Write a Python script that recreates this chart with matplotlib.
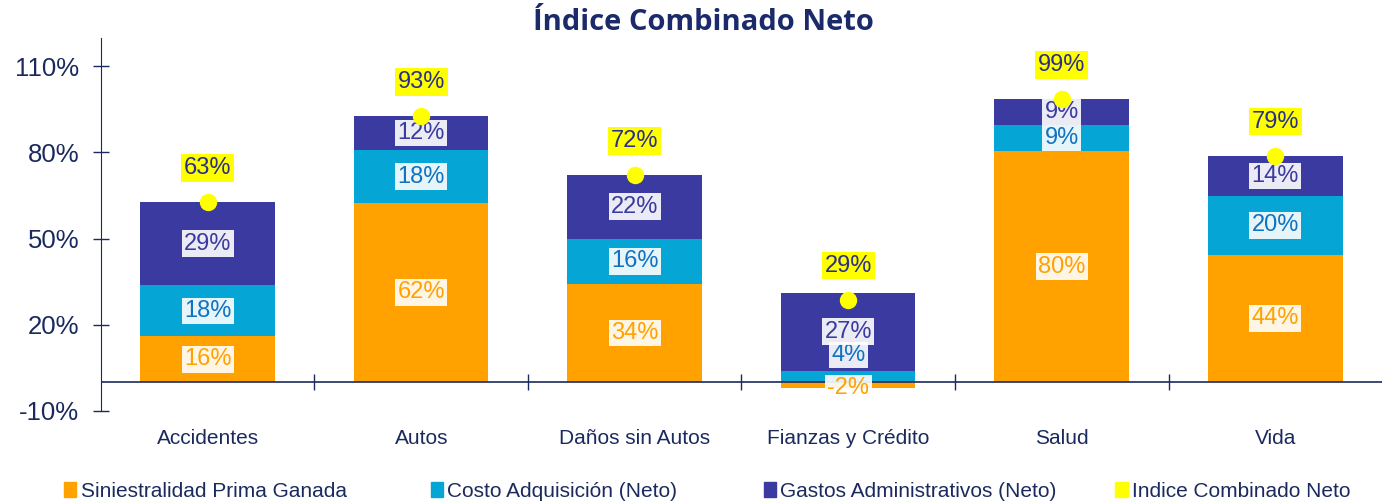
import matplotlib
matplotlib.use("Agg")
import matplotlib.pyplot as plt
from matplotlib.patches import Patch
import numpy as np

categories = ["Accidentes", "Autos", "Daños sin Autos", "Fianzas y Crédito", "Salud", "Vida"]
siniestralidad = [15.9, 62.4, 34.2, -2.2, 80.4, 44.4]
costo_adq = [17.8, 18.4, 15.8, 4.0, 9.2, 20.3]
gastos_adm = [29.1, 11.9, 22.1, 26.9, 9.0, 14.2]
indice_comb = [62.8, 92.7, 72.1, 28.7, 98.6, 78.9]
yticks = [-10, 20, 50, 80, 110]
legend_labels = ["Siniestralidad Prima Ganada", "Costo Adquisición (Neto)",
                 "Gastos Administrativos (Neto)", "Indice Combinado Neto"]

C_OR = "#FFA200"
C_CY = "#05A6D6"
C_PU = "#3A3AA0"
C_YE = "#FFFF00"
NAVY = "#1B2A5E"

plt.rcParams['font.family'] = ['Liberation Sans', 'DejaVu Sans']

fig = plt.figure(figsize=(13.87, 5.04), dpi=100)
ax = fig.add_axes([0.0728, 0.185, 0.9236, 0.7404])

x = np.arange(len(categories))
w = 0.63
sin = np.array(siniestralidad)
cos = np.array(costo_adq)
gas = np.array(gastos_adm)
base_pos = np.where(sin > 0, sin, 0)
ax.bar(x, sin, w, color=C_OR, zorder=2)
ax.bar(x, cos, w, bottom=base_pos, color=C_CY, zorder=2)
ax.bar(x, gas, w, bottom=base_pos + cos, color=C_PU, zorder=2)

bbox_w = dict(boxstyle="square,pad=0.1", fc="white", ec="none", alpha=0.9)
for i in range(len(x)):
    mids = [sin[i] / 2, base_pos[i] + cos[i] / 2, base_pos[i] + cos[i] + gas[i] / 2]
    cols = [C_OR, "#1072C0", C_PU]
    vals = [sin[i], cos[i], gas[i]]
    if sin[i] < 0:
        mids = [sin[i] / 2 - 1, 9.4, 17.5]
    for m, c, v in zip(mids, cols, vals):
        ax.text(x[i], m, f"{v:.0f}%", ha="center", va="center", fontsize=17,
                color=c, bbox=bbox_w, zorder=4)
    ax.annotate(f"{indice_comb[i]:.0f}%", (x[i], indice_comb[i]), xytext=(0, 24.5),
                textcoords="offset points", ha="center", va="center", fontsize=17,
                color="#2A2F8A",
                bbox=dict(boxstyle="square,pad=0.12", fc=C_YE, ec="none"), zorder=5)

ax.plot(x, indice_comb, linestyle="none", marker="o", markersize=11.5,
        color=C_YE, zorder=5)

ax.set_xlim(-0.5, len(categories) - 0.5)
ax.set_ylim(-10, 120)
ax.set_yticks(yticks)
ax.set_yticklabels([f"{t}%" for t in yticks], fontsize=18.5, color=NAVY)
ax.tick_params(axis="y", direction="inout", length=11.5, color=NAVY, pad=10, width=1)
ax.set_xticks(x)
ax.set_xticklabels(categories, fontsize=15, color=NAVY)
ax.tick_params(axis="x", length=0, pad=13)
for s in ["top", "right", "bottom"]:
    ax.spines[s].set_visible(False)
ax.spines["left"].set_color(NAVY)
ax.axhline(0, color=NAVY, lw=1.2, zorder=3)
ax.plot(x[:-1] + 0.5, np.zeros(len(x) - 1), linestyle="none", marker="|",
        markersize=11.5, color=NAVY, zorder=3, markeredgewidth=1)

fig.text(0.507, 0.956, "Índice Combinado Neto", ha="center", va="center",
         fontsize=21, fontweight="bold", color="#1B2A6B", family=["Open Sans", "DejaVu Sans"])

colors = [C_OR, C_CY, C_PU, C_YE]
leg_x = [0.0461, 0.3106, 0.5506, 0.8039]
for c, lab, lx in zip(colors, legend_labels, leg_x):
    lg = fig.legend([Patch(color=c)], [lab], loc="center left", bbox_to_anchor=(lx, 0.025),
                    frameon=False, fontsize=15, handlelength=0.6, handleheight=0.7,
                    handletextpad=0.2, labelcolor=NAVY, borderpad=0, borderaxespad=0)

fig.savefig("out.png", dpi=100)
